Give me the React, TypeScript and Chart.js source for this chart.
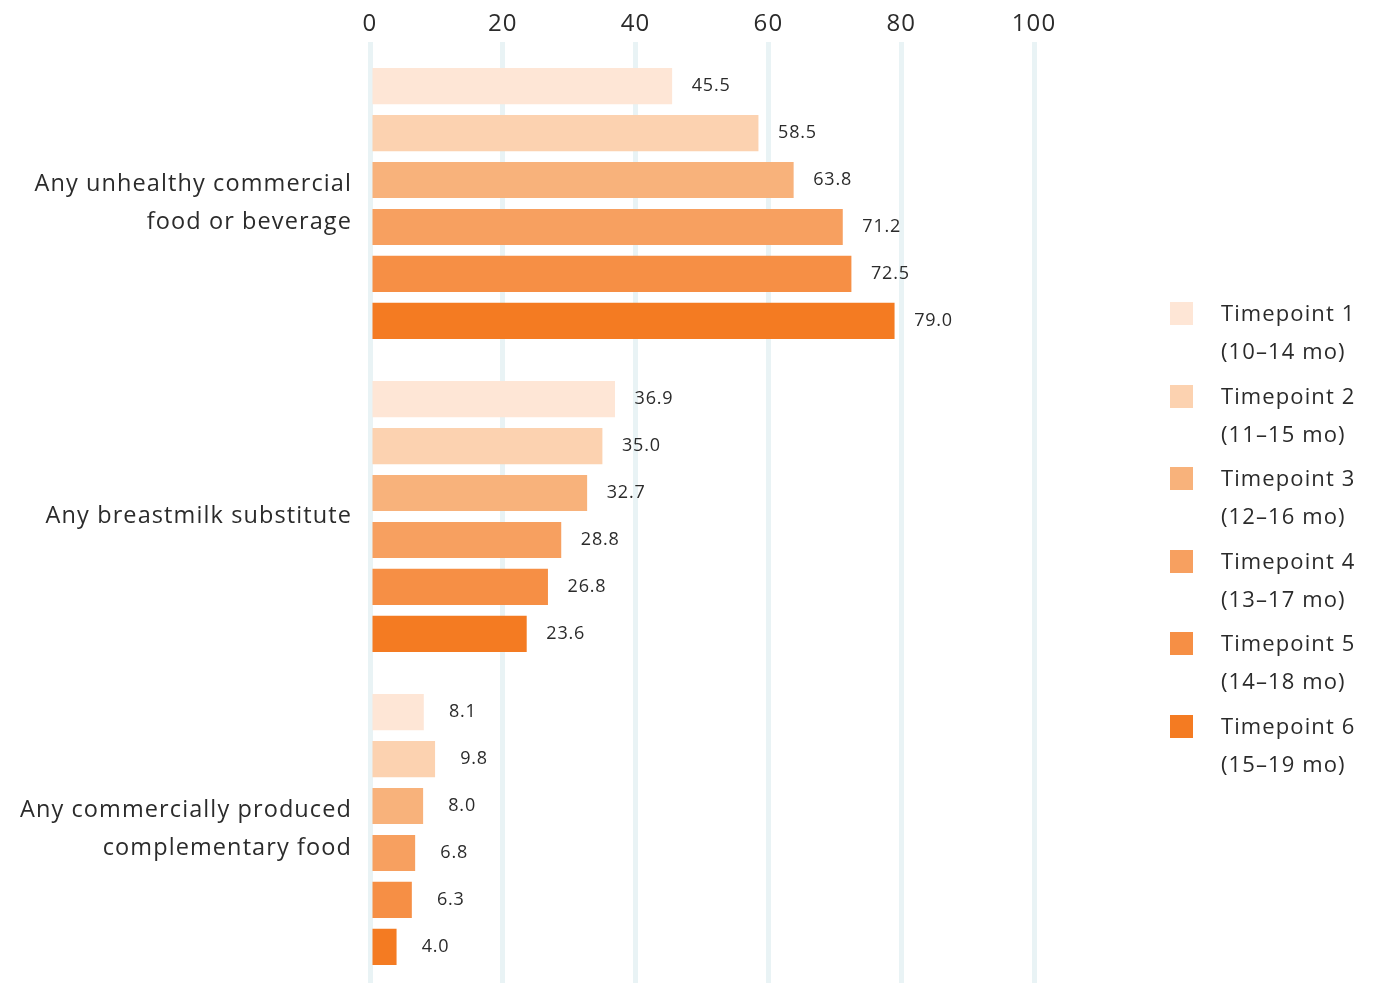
import React, { useEffect, useRef } from "react";
import { Chart, registerables } from "chart.js";

Chart.register(...registerables);

const categories: (string | string[])[] = [
  ["Any unhealthy commercial", "food or beverage"],
  "Any breastmilk substitute",
  ["Any commercially produced", "complementary food"],
];

const seriesNames = [
  ["Timepoint 1", "(10–14 mo)"],
  ["Timepoint 2", "(11–15 mo)"],
  ["Timepoint 3", "(12–16 mo)"],
  ["Timepoint 4", "(13–17 mo)"],
  ["Timepoint 5", "(14–18 mo)"],
  ["Timepoint 6", "(15–19 mo)"],
];

const tp1 = [45.5, 36.9, 8.1];
const tp2 = [58.5, 35.0, 9.8];
const tp3 = [63.8, 32.7, 8.0];
const tp4 = [71.2, 28.8, 6.8];
const tp5 = [72.5, 26.8, 6.3];
const tp6 = [79.0, 23.6, 4.0];
const seriesValues = [tp1, tp2, tp3, tp4, tp5, tp6];

const colors = ["#fee6d6", "#fcd2b0", "#f8b27b", "#f7a060", "#f68f45", "#f47b22"];

const xTicks = [0, 20, 40, 60, 80, 100];

const FONT = "'Open Sans', sans-serif";
const TEXT = "#2b2b2b";

const spacing = {
  id: "spacing",
  beforeDraw(chart: any) {
    const ctx = chart.ctx;
    ctx.save();
    (ctx as any).letterSpacing = "1.1px";
  },
  afterDraw(chart: any) {
    chart.ctx.restore();
  },
};

const barLabels = {
  id: "barLabels",
  afterDatasetsDraw(chart: any) {
    const ctx = chart.ctx;
    ctx.save();
    (ctx as any).letterSpacing = "0.8px";
    ctx.font = `18px ${FONT}`;
    ctx.fillStyle = TEXT;
    ctx.textAlign = "center";
    ctx.textBaseline = "middle";
    chart.data.datasets.forEach((ds: any, i: number) => {
      const meta = chart.getDatasetMeta(i);
      meta.data.forEach((el: any, j: number) => {
        ctx.fillText(Number(ds.data[j]).toFixed(1), el.x + 39, el.y);
      });
    });
    ctx.restore();
  },
};

export default function App() {
  const ref = useRef<HTMLCanvasElement>(null);

  useEffect(() => {
    document.documentElement.style.overflow = "hidden";
    const chart = new Chart(ref.current!, {
      type: "bar",
      data: {
        labels: categories as any,
        datasets: seriesValues.map((vals, i) => ({
          label: seriesNames[i].join(" "),
          data: vals,
          backgroundColor: colors[i],
          borderWidth: 0,
          categoryPercentage: 0.9,
          barPercentage: 0.77,
        })),
      },
      options: {
        indexAxis: "y",
        animation: false,
        responsive: false,
        maintainAspectRatio: false,
        layout: { padding: { left: 0, right: 334, top: 0, bottom: 0 } },
        plugins: {
          legend: { display: false },
          tooltip: { enabled: false },
        },
        scales: {
          x: {
            type: "linear",
            position: "top",
            min: 0,
            max: 100,
            afterBuildTicks: (scale: any) => {
              scale.ticks = xTicks.map((v) => ({ value: v }));
            },
            afterFit: (scale: any) => {
              scale.height = 39;
              scale.paddingLeft = 0;
              scale.paddingRight = 0;
            },
            ticks: {
              font: { family: FONT, size: 24 },
              color: TEXT,
              padding: 3,
            },
            grid: {
              color: "#e9f3f5",
              lineWidth: 5,
              tickLength: 5,
              drawTicks: true,
            },
            border: { display: false },
          },
          y: {
            type: "category",
            afterFit: (scale: any) => {
              scale.width = 362;
              scale.paddingTop = 0;
              scale.paddingBottom = 0;
            },
            ticks: {
              font: { family: FONT, size: 23.5, lineHeight: 1.617 },
              color: TEXT,
              padding: 18,
            },
            grid: { display: false, drawTicks: false },
            border: { display: false },
          },
        },
      },
      plugins: [spacing, barLabels],
    });
    return () => chart.destroy();
  }, []);

  return (
    <div style={{ position: "relative", width: 1360, height: 978 }}>
      <canvas ref={ref} width={1360} height={978} style={{ display: "block" }} />
      <div
        style={{
          position: "absolute",
          left: 1162,
          top: 285,
          fontFamily: FONT,
          fontSize: 22,
          letterSpacing: "1.1px",
          color: TEXT,
        }}
      >
        {seriesNames.map((n, i) => (
          <div key={i} style={{ position: "relative", height: 76, marginBottom: 6.6 }}>
            <div
              style={{
                position: "absolute",
                left: 0,
                top: 9,
                width: 23,
                height: 23,
                background: colors[i],
              }}
            />
            <div style={{ position: "absolute", left: 51, top: 0, lineHeight: "38px", whiteSpace: "nowrap" }}>
              <div>{n[0]}</div>
              <div>{n[1]}</div>
            </div>
          </div>
        ))}
      </div>
    </div>
  );
}
